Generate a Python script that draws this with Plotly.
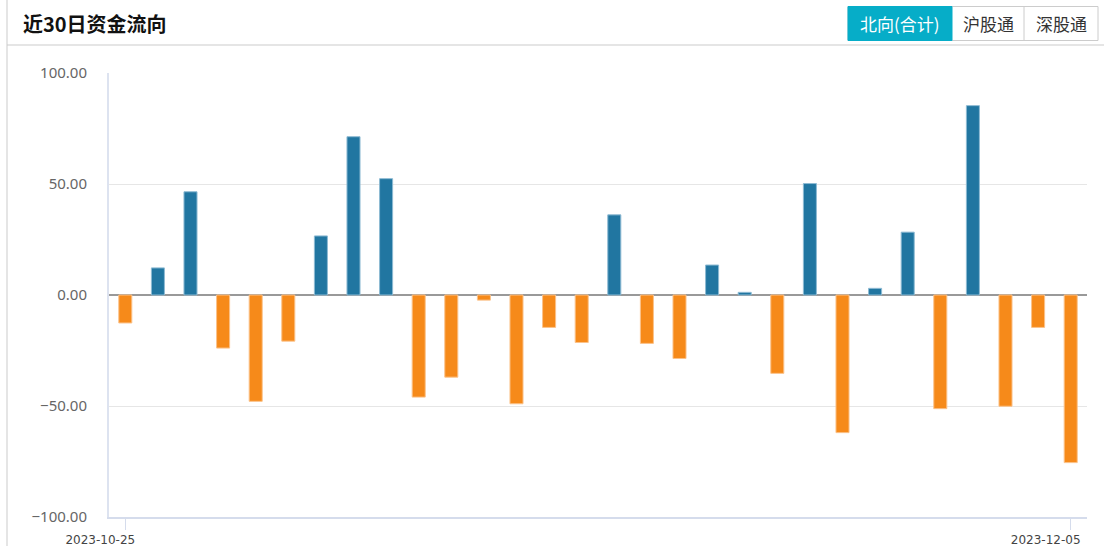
import plotly.graph_objects as go

dates = ["2023-10-25", "2023-10-26", "2023-10-27", "2023-10-30", "2023-10-31",
         "2023-11-01", "2023-11-02", "2023-11-03", "2023-11-06", "2023-11-07",
         "2023-11-08", "2023-11-09", "2023-11-10", "2023-11-13", "2023-11-14",
         "2023-11-15", "2023-11-16", "2023-11-17", "2023-11-20", "2023-11-21",
         "2023-11-22", "2023-11-23", "2023-11-24", "2023-11-27", "2023-11-28",
         "2023-11-29", "2023-11-30", "2023-12-01", "2023-12-04", "2023-12-05"]
net_flow = [-12.6, 12.2, 46.5, -23.9, -47.9, -20.8, 26.6, 71.3, 52.4, -46.0,
            -37.0, -2.3, -49.0, -14.6, -21.4, 36.1, -21.8, -28.6, 13.5, 1.2,
            -35.3, 50.2, -62.0, 3.0, 28.3, -51.2, 85.3, -50.1, -14.6, -75.5]
y_ticks = [-100, -50, 0, 50, 100]
x_ticks = [dates[0], dates[-1]]
title_text = "近30日资金流向"
buttons = ["北向(合计)", "沪股通", "深股通"]

BLUE = "#2176a1"
ORANGE = "#f68a1a"
colors = [BLUE if v >= 0 else ORANGE for v in net_flow]
line_colors = ["#8dbad3" if v >= 0 else "#fbc28a" for v in net_flow]

W, H = 1104, 546
ML, MR, MT, MB = 109, 17, 73, 29
PW, PH = W - ML - MR, H - MT - MB


def px_x(x):
    return (x - ML) / PW


def px_y(y):
    return (H - MB - y) / PH


fig = go.Figure()
fig.add_trace(go.Bar(
    x=dates, y=net_flow, width=0.4,
    marker=dict(color=colors, line=dict(color=line_colors, width=1)),
    hovertemplate="%{x}<br>%{y:.2f}<extra></extra>",
))

shapes = []
# left border & header separator
shapes.append(dict(type="line", xref="paper", yref="paper",
                   x0=px_x(7), x1=px_x(7), y0=px_y(0), y1=px_y(H),
                   line=dict(color="#dddddd", width=1.5), layer="below"))
shapes.append(dict(type="line", xref="paper", yref="paper",
                   x0=px_x(7), x1=px_x(W), y0=px_y(45), y1=px_y(45),
                   line=dict(color="#cccccc", width=1.2)))
# buttons
btn_x = [848, 952, 1024, 1098]
shapes.append(dict(type="rect", xref="paper", yref="paper",
                   x0=px_x(btn_x[0]), x1=px_x(btn_x[-1]),
                   y0=px_y(40.5), y1=px_y(6.5),
                   line=dict(color="#cccccc", width=1), fillcolor="white"))
shapes.append(dict(type="rect", xref="paper", yref="paper",
                   x0=px_x(btn_x[0]), x1=px_x(btn_x[1]),
                   y0=px_y(40.5), y1=px_y(6.5),
                   line=dict(color="#06adc8", width=1), fillcolor="#06adc8"))
shapes.append(dict(type="line", xref="paper", yref="paper",
                   x0=px_x(btn_x[2]), x1=px_x(btn_x[2]),
                   y0=px_y(40.5), y1=px_y(6.5),
                   line=dict(color="#cccccc", width=1)))

annotations = [dict(text="<b>" + title_text + "</b>", xref="paper", yref="paper",
                    x=px_x(21), y=px_y(24), xanchor="left", yanchor="middle",
                    showarrow=False,
                    font=dict(family="Noto Sans CJK SC", size=20, color="#111111"))]
for i, b in enumerate(buttons):
    cx = (btn_x[i] + btn_x[i + 1]) / 2
    annotations.append(dict(text=b, xref="paper", yref="paper",
                            x=px_x(cx), y=px_y(23.5), xanchor="center", yanchor="middle",
                            showarrow=False,
                            font=dict(family="Noto Sans CJK SC", size=17,
                                      color="white" if i == 0 else "#333333")))

fig.update_layout(
    width=W, height=H, autosize=False,
    margin=dict(l=ML, r=MR, t=MT, b=MB, autoexpand=False),
    paper_bgcolor="white", plot_bgcolor="white",
    showlegend=False, bargap=0.6,
    shapes=shapes, annotations=annotations,
    xaxis=dict(type="category", tickmode="array", tickvals=x_ticks, ticktext=x_ticks,
               ticks="outside", ticklen=11, tickcolor="#d5dcec", tickwidth=1,
               showline=True, linecolor="#d5dcec", linewidth=2,
               showgrid=False, ticklabelshift=-25, automargin=False,
               tickfont=dict(family="DejaVu Sans", size=12, color="#444444")),
    yaxis=dict(range=[-100, 100], tickvals=y_ticks, tickformat=".2f",
               showgrid=True, gridcolor="#e6e6e6", gridwidth=1,
               zeroline=True, zerolinecolor="#999999", zerolinewidth=1.5,
               showline=True, linecolor="#dde3f0", linewidth=2,
               ticks="", ticklabelstandoff=17, automargin=False,
               tickfont=dict(family="Noto Sans", size=15, color="#666666")),
)

fig.write_html("out.html", config={"displayModeBar": False},
               post_script="document.body.style.margin='0';document.body.style.overflow='hidden';")
